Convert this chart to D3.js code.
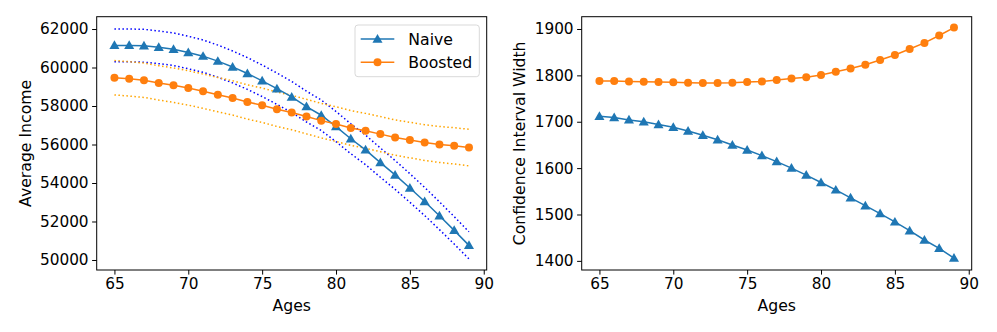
<!DOCTYPE html>
<html>
<head>
<meta charset="utf-8">
<script src="https://cdn.jsdelivr.net/npm/d3@7"></script>
<style>
  body{margin:0;background:#fff;}
  svg{display:block;font-family:"DejaVu Sans",sans-serif;}
  .tick line{stroke:#000;stroke-width:1;}
  .domain{display:none;}
</style>
</head>
<body>
<svg id="chart" width="997" height="332"></svg>
<script>
//data ------------------------------
var ages=d3.range(65,90);
var naiveIncome=[61150,61150,61130,61050,60950,60780,60590,60330,60030,59690,59310,58900,58470,57970,57520,56930,56300,55720,55060,54420,53740,53040,52300,51540,50760];
var boostedIncome=[59470,59410,59340,59200,59080,58940,58770,58590,58420,58210,58040,57830,57660,57450,57240,57060,56860,56710,56540,56360,56230,56100,56000,55930,55840];
var naiveWidth=[1712,1709,1704,1700,1694,1688,1680,1671,1661,1650,1639,1627,1614,1600,1585,1569,1553,1536,1519,1502,1484,1465,1445,1427,1406];
var boostedWidth=[1788,1788,1787,1786,1785.5,1785,1784,1783.5,1783.5,1784,1785.5,1787,1790,1793,1796,1801,1808,1815,1823,1833,1844,1857,1870,1886,1903];
var xTicks=[65,70,75,80,85,90];
var incomeTicks=[50000,52000,54000,56000,58000,60000,62000];
var widthTicks=[1400,1500,1600,1700,1800,1900];

var blue='#1f77b4', orange='#ff7f0e';
var svg=d3.select('#chart');

function tri(size){
  return d3.symbol().type(d3.symbolTriangle).size(size)();
}

function styleTicks(sel){
  sel.attr('font-family',null).attr('font-size',null);
  sel.selectAll('text').style('font-family','"DejaVu Sans",sans-serif')
    .style('font-size','15.3px').style('fill','#000');
}

function makePanel(opts){
  var g=svg.append('g');
  var x=d3.scaleLinear().domain([63.8,90.2]).range([opts.left,opts.right]);
  var y=d3.scaleLinear().domain(opts.ydom).range([270,16.7]);

  g.append('g').attr('transform','translate(0,270)')
    .call(d3.axisBottom(x).tickValues(xTicks).tickSize(4.6).tickPadding(3.5))
    .call(styleTicks);
  g.append('g').attr('transform','translate('+opts.left+',0)')
    .call(d3.axisLeft(y).tickValues(opts.yticks).tickSize(4.6).tickPadding(3.5).tickFormat(d3.format('d')))
    .call(styleTicks);

  // bands
  (opts.bands||[]).forEach(function(b){
    var line=d3.line().x((d,i)=>x(ages[i])).y(d=>y(d));
    [b.lo,b.hi].forEach(function(arr){
      g.append('path').datum(arr).attr('d',line)
        .attr('fill','none').attr('stroke',b.color).attr('stroke-width',1.5)
        .attr('stroke-dasharray','1.5,2.5');
    });
  });

  opts.series.forEach(function(s){
    var line=d3.line().x((d,i)=>x(ages[i])).y(d=>y(d));
    g.append('path').datum(s.values).attr('d',line)
      .attr('fill','none').attr('stroke',s.color).attr('stroke-width',1.5);
    var pts=g.selectAll(null).data(s.values).enter();
    if(s.marker=='tri'){
      pts.append('path').attr('d',tri(44))
        .attr('transform',(d,i)=>'translate('+x(ages[i])+','+(y(d)+0.8)+')')
        .attr('fill',s.color);
    }else{
      pts.append('circle').attr('cx',(d,i)=>x(ages[i])).attr('cy',d=>y(d))
        .attr('r',4).attr('fill',s.color);
    }
  });

  g.append('rect').attr('x',opts.left).attr('y',16.7)
    .attr('width',opts.right-opts.left).attr('height',270-16.7)
    .attr('fill','none').attr('stroke','#000').attr('stroke-width',1);

  g.append('text').attr('x',(opts.left+opts.right)/2).attr('y',311)
    .attr('text-anchor','middle').attr('font-size','15.7px').text('Ages');
  g.append('text')
    .attr('transform','translate('+opts.ylabx+','+((16.7+270)/2)+') rotate(-90)')
    .attr('text-anchor','middle').attr('font-size','15.7px').text(opts.ylabel);
  return g;
}

var left=makePanel({
  left:96.7,right:486.7,ydom:[49480,62640],yticks:incomeTicks,
  ylabel:'Average Income',ylabx:31,
  bands:[
    {color:'blue',lo:naiveIncome.map((d,i)=>d-naiveWidth[i]/2),hi:naiveIncome.map((d,i)=>d+naiveWidth[i]/2)},
    {color:'orange',lo:boostedIncome.map((d,i)=>d-boostedWidth[i]/2),hi:boostedIncome.map((d,i)=>d+boostedWidth[i]/2)}
  ],
  series:[
    {values:naiveIncome,color:blue,marker:'tri'},
    {values:boostedIncome,color:orange,marker:'circle'}
  ]
});

makePanel({
  left:581.7,right:971.7,ydom:[1380.3,1926.5],yticks:widthTicks,
  ylabel:'Confidence Interval Width',ylabx:524.5,
  series:[
    {values:naiveWidth,color:blue,marker:'tri'},
    {values:boostedWidth,color:orange,marker:'circle'}
  ]
});

// legend
var lg=left.append('g');
lg.append('rect').attr('x',355).attr('y',25).attr('width',124.3).attr('height',51.7)
  .attr('rx',3).attr('fill','#fff').attr('fill-opacity',0.8).attr('stroke','#d9d9d9').attr('stroke-width',1);
var items=[{name:'Naive',color:blue,marker:'tri',y:39},{name:'Boosted',color:orange,marker:'circle',y:62.3}];
items.forEach(function(it){
  lg.append('line').attr('x1',360.7).attr('x2',394.3).attr('y1',it.y).attr('y2',it.y)
    .attr('stroke',it.color).attr('stroke-width',1.5);
  if(it.marker=='tri'){
    lg.append('path').attr('d',tri(44)).attr('transform','translate(377.5,'+(it.y+0.8)+')').attr('fill',it.color);
  }else{
    lg.append('circle').attr('cx',377.5).attr('cy',it.y).attr('r',4).attr('fill',it.color);
  }
  lg.append('text').attr('x',408.3).attr('y',it.y).attr('dy','0.36em')
    .attr('font-size','15.7px').text(it.name);
});
</script>
</body>
</html>
